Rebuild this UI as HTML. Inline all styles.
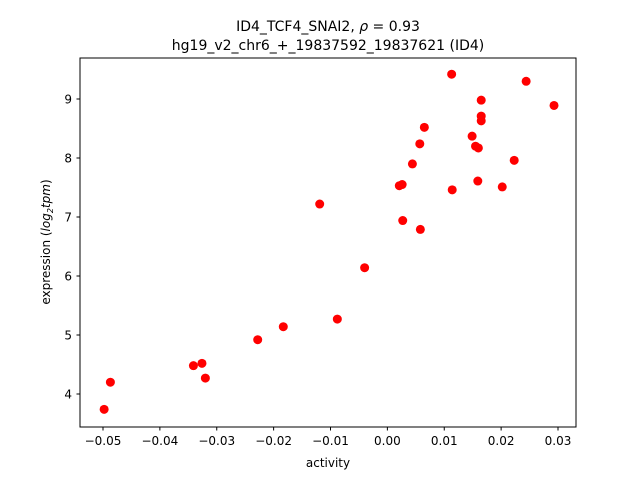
<!DOCTYPE html>
<html><head><meta charset="utf-8"><style>
body{margin:0;background:#fff}
svg{font-family:"DejaVu Sans","Liberation Sans",sans-serif}
</style></head><body>
<svg id="chart" width="640" height="480" xmlns="http://www.w3.org/2000/svg">
<rect width="640" height="480" fill="#fff"/>
<text x="328" y="31" font-size="14" text-anchor="middle">ID4_TCF4_SNAI2, <tspan font-style="italic">ρ</tspan> = 0.93</text>
<text x="328" y="50" font-size="14" text-anchor="middle">hg19_v2_chr6_+_19837592_19837621 (ID4)</text>
<g id="plot"></g>
<rect x="80" y="58" width="496" height="369" fill="none" stroke="#000" stroke-width="1"/>
<text x="328" y="467" font-size="12" text-anchor="middle">activity</text>
<text transform="translate(50,242) rotate(-90)" font-size="12" text-anchor="middle">expression (<tspan font-style="italic">log</tspan><tspan font-size="8" dy="3" font-style="italic">2</tspan><tspan dy="-3" font-style="italic">tpm</tspan>)</text>
</svg>
<script>
const activity=[-0.0498,-0.0487,-0.0341,-0.0326,-0.0320,-0.0228,-0.0183,-0.0119,-0.0088,-0.0040,0.0021,0.0026,0.0027,0.0044,0.0057,0.0058,0.0065,0.0113,0.0114,0.0149,0.0155,0.0159,0.0160,0.0165,0.0165,0.0165,0.0202,0.0223,0.0244,0.0293];
const expression=[3.74,4.20,4.48,4.52,4.27,4.92,5.14,7.22,5.27,6.14,7.53,7.55,6.94,7.90,8.24,6.79,8.52,9.42,7.46,8.37,8.20,7.61,8.17,8.98,8.71,8.63,7.51,7.96,9.30,8.89];
const xTicks=[-0.05,-0.04,-0.03,-0.02,-0.01,0.00,0.01,0.02,0.03];
const xTickLabels=["−0.05","−0.04","−0.03","−0.02","−0.01","0.00","0.01","0.02","0.03"];
const yTicks=[4,5,6,7,8,9];
function xs(v){return 103+(v+0.05)*5687.5;}
function ys(v){return 394-(v-4)*59;}
const g=document.getElementById('plot');
const NS='http://www.w3.org/2000/svg';
xTicks.forEach((t,i)=>{
 const l=document.createElementNS(NS,'line');
 
 
 l.setAttribute('x1',xs(t));l.setAttribute('x2',xs(t));l.setAttribute('y1',427);l.setAttribute('y2',430.5);l.setAttribute('stroke','#000');
 g.appendChild(l);
 const tx=document.createElementNS(NS,'text');
 
 
 tx.setAttribute('x',xs(t));tx.setAttribute('y',445);tx.setAttribute('font-size','12');tx.setAttribute('text-anchor','middle');
 tx.textContent=xTickLabels[i];g.appendChild(tx);
});
yTicks.forEach(t=>{
 const l=document.createElementNS(NS,'line');
 
 
 l.setAttribute('x1',76.5);l.setAttribute('x2',80);l.setAttribute('y1',ys(t));l.setAttribute('y2',ys(t));l.setAttribute('stroke','#000');
 g.appendChild(l);
 const tx=document.createElementNS(NS,'text');
 
 
 tx.setAttribute('x',72);tx.setAttribute('y',ys(t)+4.5);tx.setAttribute('font-size','12');tx.setAttribute('text-anchor','end');
 tx.textContent=String(t);g.appendChild(tx);
});
activity.forEach((a,i)=>{
 const c=document.createElementNS(NS,'circle');
 
 
 c.setAttribute('cx',xs(a));c.setAttribute('cy',ys(expression[i]));c.setAttribute('r',4.5);c.setAttribute('fill','#ff0000');
 g.appendChild(c);
});
</script>
</body></html>
